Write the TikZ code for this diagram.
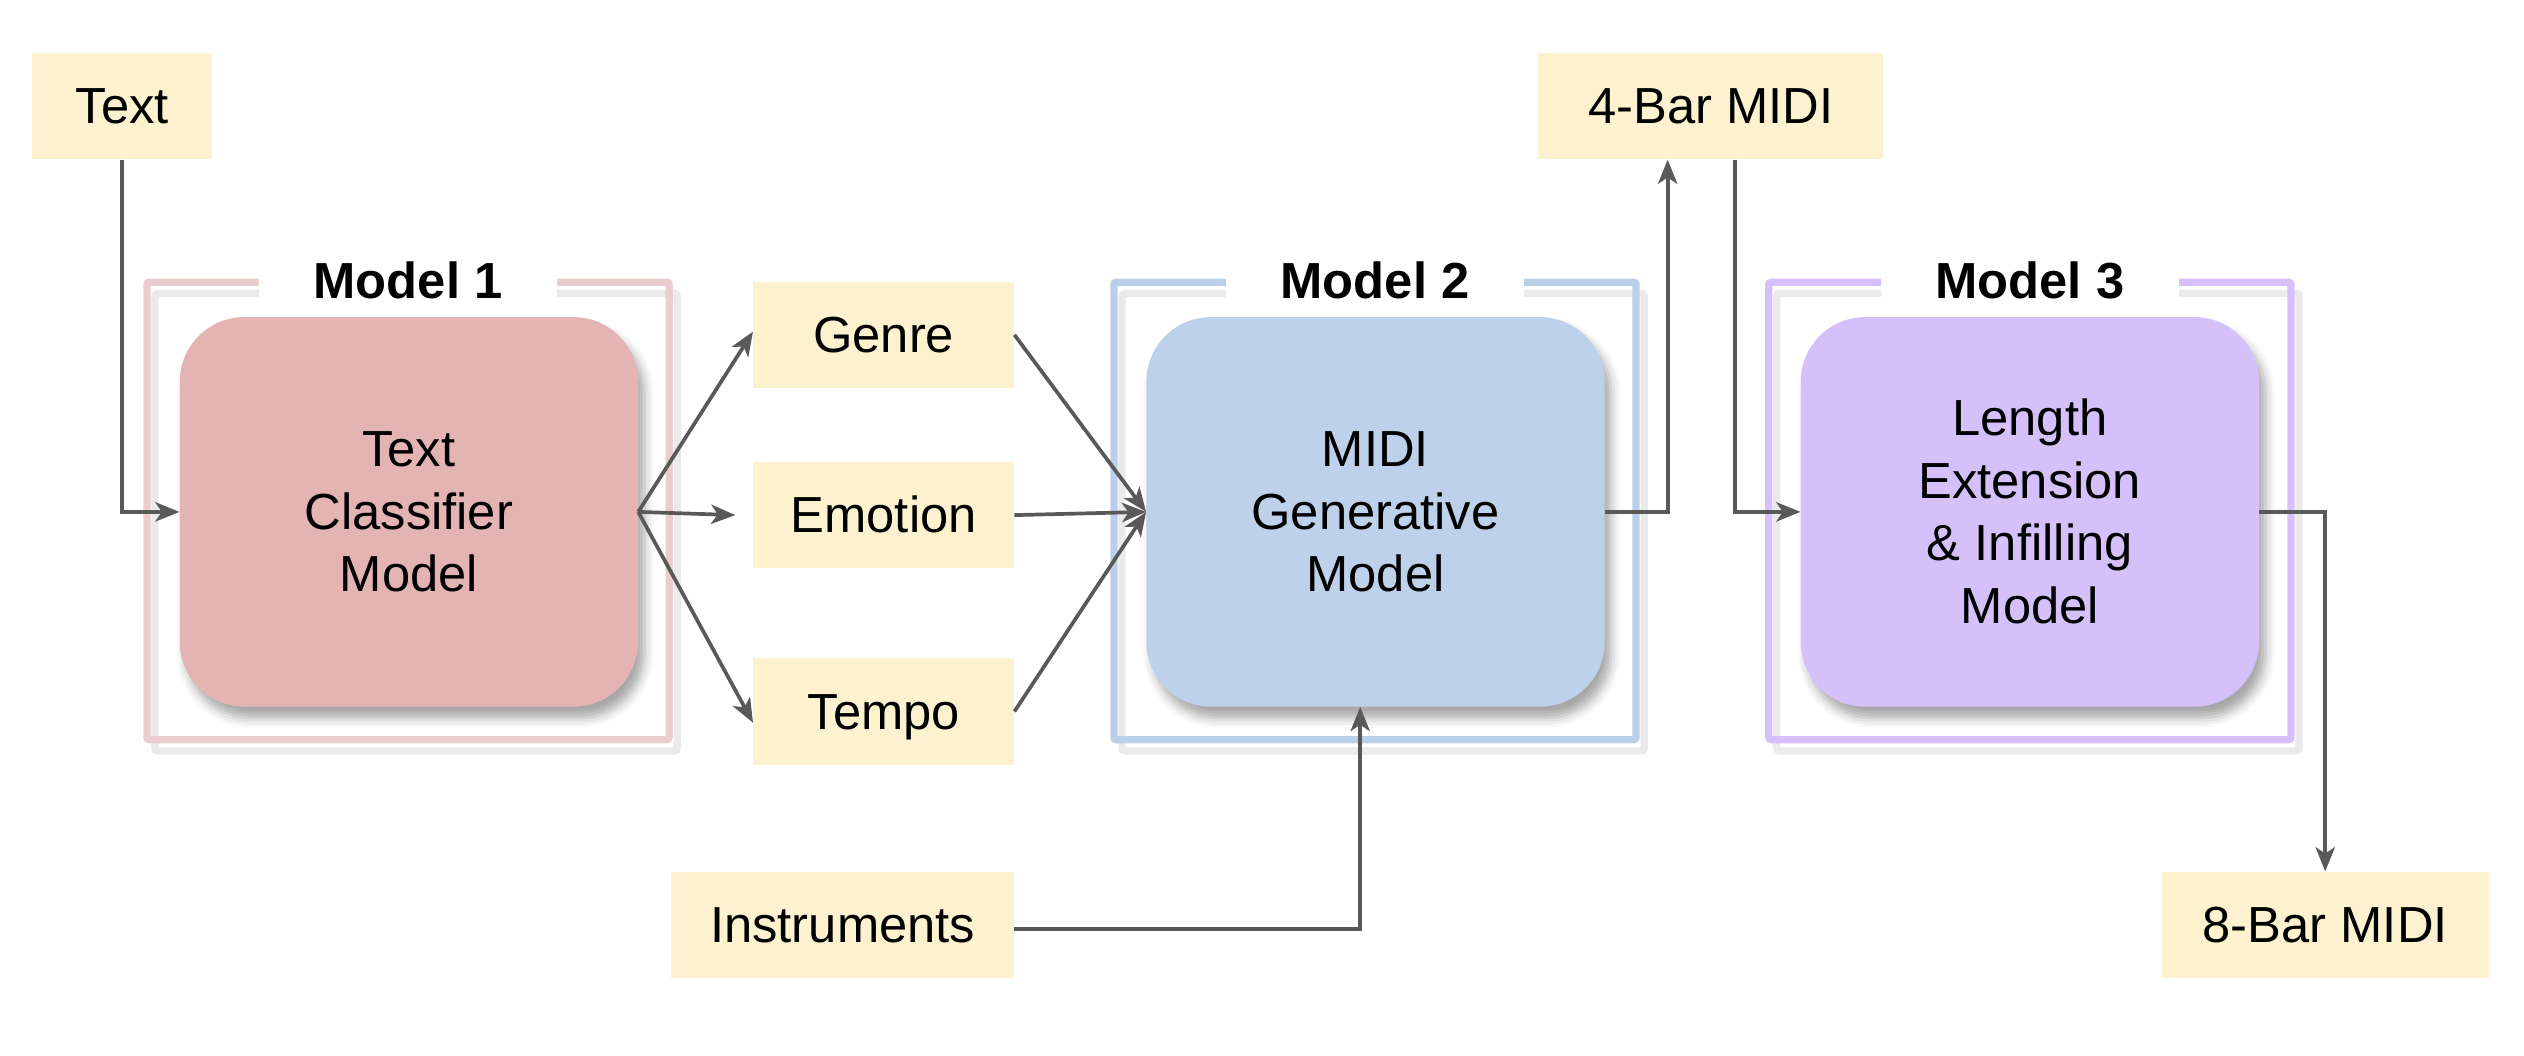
\documentclass[tikz,border=0pt]{standalone}
\usepackage{fontspec}
\setmainfont{Liberation Sans}
\usetikzlibrary{arrows.meta,shadows.blur}
\definecolor{yellowc}{RGB}{253,242,207}
\definecolor{pinkin}{RGB}{227,180,179}
\definecolor{pinkfr}{RGB}{234,205,205}
\definecolor{bluein}{RGB}{189,210,234}
\definecolor{bluefr}{RGB}{186,208,233}
\definecolor{purpin}{RGB}{214,192,250}
\definecolor{purpfr}{RGB}{214,191,250}
\definecolor{grayfr}{RGB}{234,234,234}
\definecolor{arrowc}{RGB}{89,89,89}
\begin{document}
\begin{tikzpicture}[x=1pt,y=-1pt,
  every node/.style={font=\fontsize{31.5}{38.8}\selectfont, inner sep=0pt},
  ybox/.style={fill=yellowc, minimum height=66pt, text height=28.5pt, text depth=6.7pt},
  mbox/.style={rounded corners=40pt, minimum width=284.6pt, minimum height=242pt,
    align=center, text depth=6.7pt,
    blur shadow={shadow xshift=4pt, shadow yshift=-7pt, shadow blur radius=6pt, shadow opacity=35}},
  frame/.style={line width=4.5pt, rounded corners=1.5pt},
  shadowframe/.style={frame, draw=grayfr},
  mtitle/.style={fill=white, font=\fontsize{31.5}{38.8}\selectfont\bfseries,
    minimum width=185pt, minimum height=26pt, text height=28.5pt, text depth=6.7pt},
  arr/.style={draw=arrowc, line width=2.3pt, -{Stealth[length=15pt,width=12pt,inset=4pt]}}
]
\useasboundingbox (0,0) rectangle (1568,656);

% frames with their grey offset copies
\draw[shadowframe] (96.3,182.3) rectangle (420.7,466.5);
\draw[frame, draw=pinkfr] (91.3,175.3) rectangle (415.7,459.5);
\draw[shadowframe] (697,182.3) rectangle (1021.4,466.5);
\draw[frame, draw=bluefr] (692,175.3) rectangle (1016.4,459.5);
\draw[shadowframe] (1103.8,182.3) rectangle (1428.2,466.5);
\draw[frame, draw=purpfr] (1098.8,175.3) rectangle (1423.2,459.5);

% titles
\node[mtitle] (t1) at (253.5,174.5) {Model 1};
\node[mtitle] (t2) at (854.2,174.5) {Model 2};
\node[mtitle] (t3) at (1261,174.5) {Model 3};

% model boxes
\node[mbox, fill=pinkin, text height=106.1pt] (m1) at (254,318) {Text\\Classifier\\Model};
\node[mbox, fill=bluein, text height=106.1pt] (m2) at (854.5,318) {MIDI\\Generative\\Model};
\node[mbox, fill=purpin, text height=144.9pt] (m3) at (1261,318) {Length\\Extension\\\& Infilling\\Model};

% yellow boxes
\node[ybox, minimum width=112pt] (text) at (76,66) {Text};
\node[ybox, minimum width=214.5pt] (bar4) at (1062.75,66) {4-Bar MIDI};
\node[ybox, minimum width=162pt] (genre) at (549,208) {Genre};
\node[ybox, minimum width=162pt] (emo) at (549,320) {Emotion};
\node[ybox, minimum width=162pt] (tempo) at (549,442) {Tempo};
\node[ybox, minimum width=213pt] (inst) at (523.5,574.5) {Instruments};
\node[ybox, minimum width=203pt] (bar8) at (1444.5,574.5) {8-Bar MIDI};

% connectors
\draw[arr] (text.south) |- (m1.west);
\draw[arr] (m1.east) -- ([yshift=2pt]genre.west);
\draw[arr] (m1.east) -- ([xshift=-11pt]emo.west);
\draw[arr] (m1.east) -- ([yshift=-7pt]tempo.west);
\draw[arr] (genre.east) -- (m2.west);
\draw[arr] (emo.east) -- (m2.west);
\draw[arr] (tempo.east) -- (m2.west);
\draw[arr] (m2.east) -| ([xshift=-26.75pt]bar4.south);
\draw[arr] ([xshift=15.25pt]bar4.south) |- (m3.west);
\draw[arr] (m3.east) -| (bar8.north);
\draw[arr] ([yshift=-2.5pt]inst.east) -| ([xshift=-9.5pt]m2.south);
\end{tikzpicture}
\end{document}
